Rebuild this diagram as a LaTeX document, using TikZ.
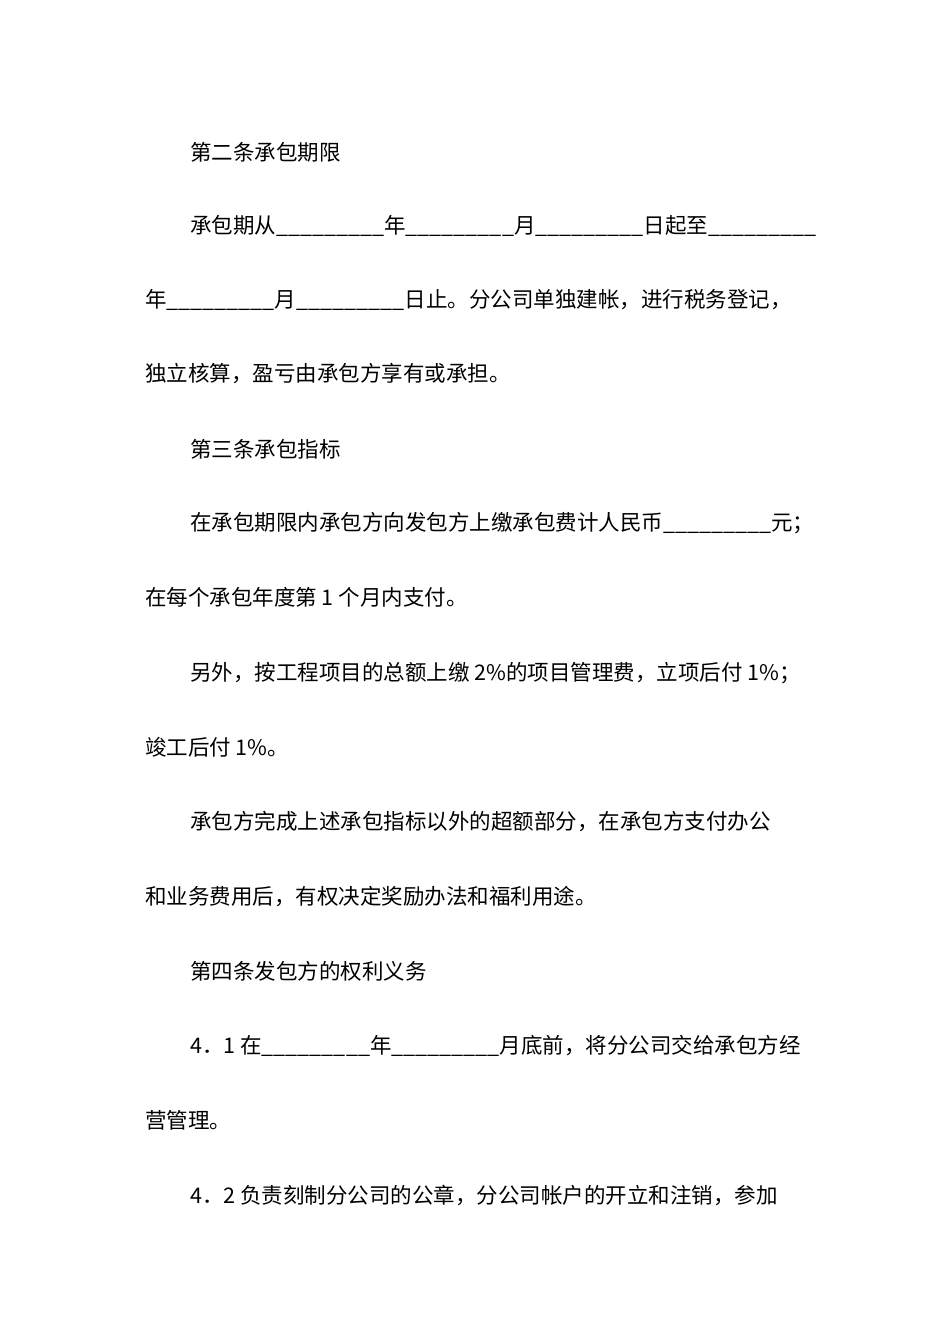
\documentclass[tikz,border=0pt]{standalone}
\usepackage{fontspec}
\newfontfamily\cjk{Noto Sans CJK SC}
\begin{document}
\begin{tikzpicture}[x=1pt,y=-1pt,every node/.style={anchor=west,inner sep=0pt,font=\cjk\fontsize{21.5}{24}\selectfont}]
\useasboundingbox (0,0) rectangle (950,1344);
\node (l1) at (190,152) {第二条承包期限};
\node (l2) at (190,226) {承包期从\_\_\_\_\_\_\_\_\_年\_\_\_\_\_\_\_\_\_月\_\_\_\_\_\_\_\_\_日起至\_\_\_\_\_\_\_\_\_};
\node (l3) at (145,300) {年\_\_\_\_\_\_\_\_\_月\_\_\_\_\_\_\_\_\_日止。分公司单独建帐，进行税务登记，};
\node (l4) at (145,374) {独立核算，盈亏由承包方享有或承担。};
\node (l5) at (190,449) {第三条承包指标};
\node (l6) at (190,523) {在承包期限内承包方向发包方上缴承包费计人民币\_\_\_\_\_\_\_\_\_元；};
\node (l7) at (145,597) {在每个承包年度第 1 个月内支付。};
\node (l8) at (190,673) {另外，按工程项目的总额上缴 2\%的项目管理费，立项后付 1\%；};
\node (l9) at (145,747) {竣工后付 1\%。};
\node (l10) at (190,822) {承包方完成上述承包指标以外的超额部分，在承包方支付办公};
\node (l11) at (145,897) {和业务费用后，有权决定奖励办法和福利用途。};
\node (l12) at (190,971) {第四条发包方的权利义务};
\node (l13) at (190,1046) {4．1 在\_\_\_\_\_\_\_\_\_年\_\_\_\_\_\_\_\_\_月底前，将分公司交给承包方经};
\node (l14) at (145,1120) {营管理。};
\node (l15) at (190,1195) {4．2 负责刻制分公司的公章，分公司帐户的开立和注销，参加};
\end{tikzpicture}
\end{document}
